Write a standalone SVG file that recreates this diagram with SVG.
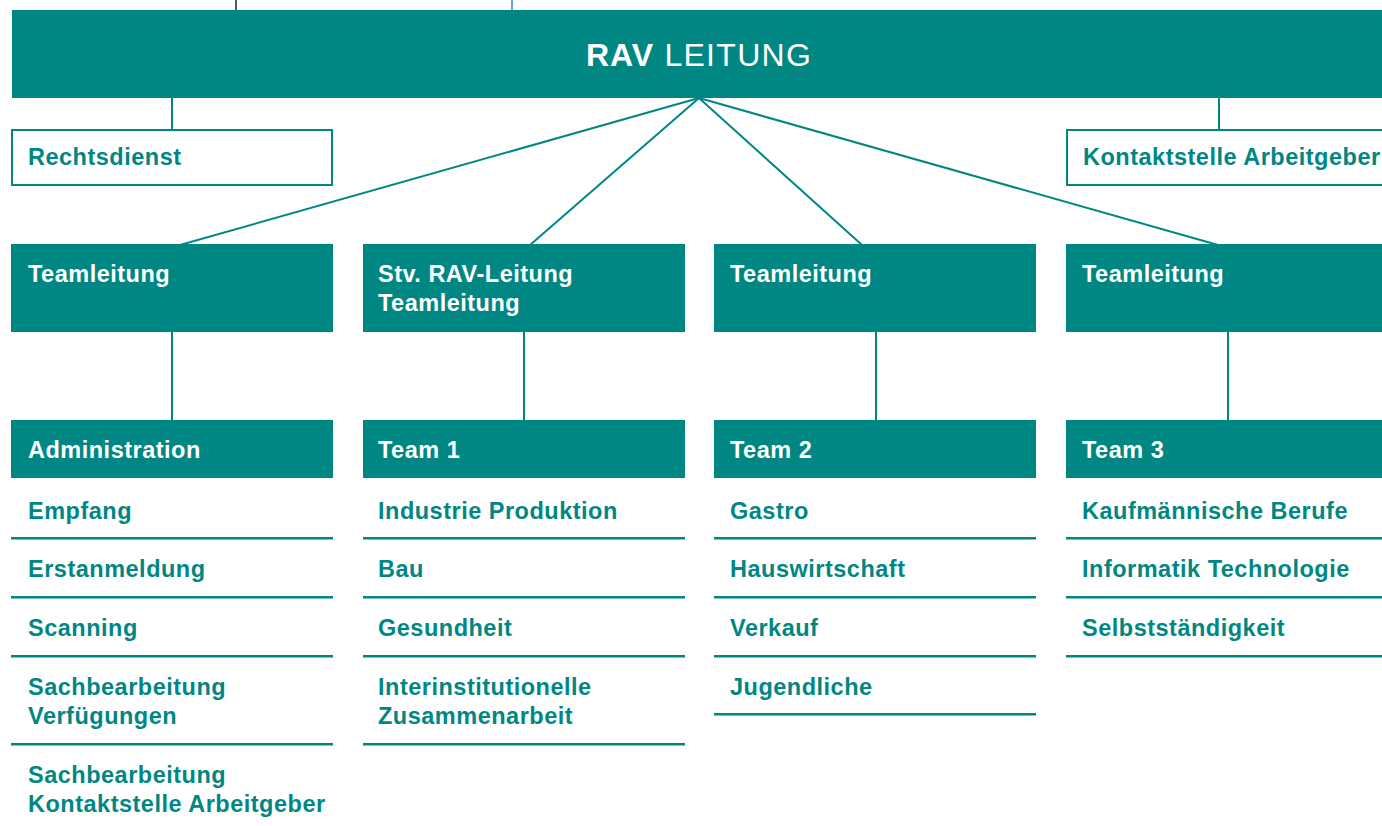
<svg xmlns="http://www.w3.org/2000/svg" width="1382" height="826" viewBox="0 0 1382 826">
<style>
.fill{fill:#008784}
.ob{fill:#fff;stroke:#008784;stroke-width:2}
.sep{fill:#008784}
.ln{stroke:#008784;stroke-width:2;fill:none}
text{font-family:"Liberation Sans",Arial,sans-serif;font-weight:bold;font-size:23.5px;letter-spacing:0.5px}
.w{fill:#fff}
.t{fill:#008784}
</style>
<rect width="1382" height="826" fill="#fff"/>
<line x1="236" y1="0" x2="236" y2="10" stroke="#222" stroke-width="1.5"/>
<line x1="512" y1="0" x2="512" y2="10" stroke="#2f7fd6" stroke-width="1.5"/>
<g id="connectors">
<line class="ln" x1="172" y1="98" x2="172" y2="130"/>
<line class="ln" x1="1219" y1="98" x2="1219" y2="130"/>
<line class="ln" x1="699" y1="98" x2="180" y2="245"/>
<line class="ln" x1="699" y1="98" x2="530" y2="245"/>
<line class="ln" x1="699" y1="98" x2="862" y2="245"/>
<line class="ln" x1="699" y1="98" x2="1218" y2="245"/>
<line class="ln" x1="172" y1="332" x2="172" y2="421"/>
<line class="ln" x1="524" y1="332" x2="524" y2="421"/>
<line class="ln" x1="876" y1="332" x2="876" y2="421"/>
<line class="ln" x1="1228" y1="332" x2="1228" y2="421"/>
</g>
<g id="rav-leitung">
<rect class="fill" x="12" y="10" width="1370" height="88"/>
<text x="586" y="66" class="w" style="font-size:32px;letter-spacing:1px">RAV<tspan style="font-weight:normal;letter-spacing:1.3px"> LEITUNG</tspan></text>
</g>
<g id="rechtsdienst">
<rect class="ob" x="12" y="130" width="320" height="55"/>
<text x="28" y="165" class="t">Rechtsdienst</text>
</g>
<g id="kontaktstelle">
<rect class="ob" x="1067" y="130" width="330" height="55"/>
<text x="1083" y="165" class="t">Kontaktstelle Arbeitgeber</text>
</g>
<g id="teamleitung-1">
<rect class="fill" x="11" y="244" width="322" height="88"/>
<text x="28" y="282" class="w">Teamleitung</text>
</g>
<g id="teamleitung-2">
<rect class="fill" x="363" y="244" width="322" height="88"/>
<text x="378" y="282" class="w">Stv. RAV-Leitung</text>
<text x="378" y="311" class="w">Teamleitung</text>
</g>
<g id="teamleitung-3">
<rect class="fill" x="714" y="244" width="322" height="88"/>
<text x="730" y="282" class="w">Teamleitung</text>
</g>
<g id="teamleitung-4">
<rect class="fill" x="1066" y="244" width="316" height="88"/>
<text x="1082" y="282" class="w">Teamleitung</text>
</g>
<g id="administration">
<rect class="fill" x="11" y="420" width="322" height="58"/>
<text x="28" y="458" class="w">Administration</text>
<text x="28" y="519" class="t">Empfang</text>
<rect class="sep" x="11" y="537" width="322" height="2.5"/>
<text x="28" y="577" class="t">Erstanmeldung</text>
<rect class="sep" x="11" y="596" width="322" height="2.5"/>
<text x="28" y="636" class="t">Scanning</text>
<rect class="sep" x="11" y="655" width="322" height="2.5"/>
<text x="28" y="695" class="t">Sachbearbeitung</text>
<text x="28" y="724" class="t">Verfügungen</text>
<rect class="sep" x="11" y="743" width="322" height="2.5"/>
<text x="28" y="783" class="t">Sachbearbeitung</text>
<text x="28" y="812" class="t">Kontaktstelle Arbeitgeber</text>
</g>
<g id="team-1">
<rect class="fill" x="363" y="420" width="322" height="58"/>
<text x="378" y="458" class="w">Team 1</text>
<text x="378" y="519" class="t">Industrie Produktion</text>
<rect class="sep" x="363" y="537" width="322" height="2.5"/>
<text x="378" y="577" class="t">Bau</text>
<rect class="sep" x="363" y="596" width="322" height="2.5"/>
<text x="378" y="636" class="t">Gesundheit</text>
<rect class="sep" x="363" y="655" width="322" height="2.5"/>
<text x="378" y="695" class="t">Interinstitutionelle</text>
<text x="378" y="724" class="t">Zusammenarbeit</text>
<rect class="sep" x="363" y="743" width="322" height="2.5"/>
</g>
<g id="team-2">
<rect class="fill" x="714" y="420" width="322" height="58"/>
<text x="730" y="458" class="w">Team 2</text>
<text x="730" y="519" class="t">Gastro</text>
<rect class="sep" x="714" y="537" width="322" height="2.5"/>
<text x="730" y="577" class="t">Hauswirtschaft</text>
<rect class="sep" x="714" y="596" width="322" height="2.5"/>
<text x="730" y="636" class="t">Verkauf</text>
<rect class="sep" x="714" y="655" width="322" height="2.5"/>
<text x="730" y="695" class="t">Jugendliche</text>
<rect class="sep" x="714" y="713" width="322" height="2.5"/>
</g>
<g id="team-3">
<rect class="fill" x="1066" y="420" width="316" height="58"/>
<text x="1082" y="458" class="w">Team 3</text>
<text x="1082" y="519" class="t">Kaufmännische Berufe</text>
<rect class="sep" x="1066" y="537" width="316" height="2.5"/>
<text x="1082" y="577" class="t">Informatik Technologie</text>
<rect class="sep" x="1066" y="596" width="316" height="2.5"/>
<text x="1082" y="636" class="t">Selbstständigkeit</text>
<rect class="sep" x="1066" y="655" width="316" height="2.5"/>
</g>
</svg>
